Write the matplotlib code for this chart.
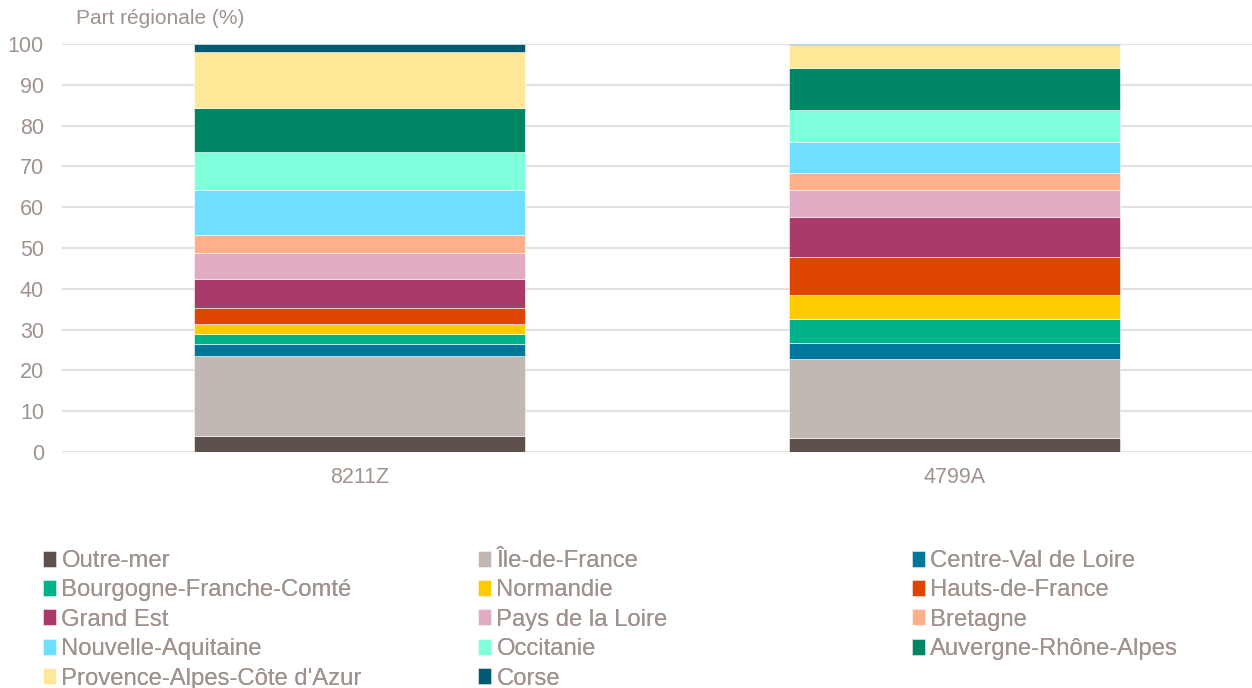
import matplotlib.pyplot as plt

plt.rcParams['font.family'] = ['Liberation Sans', 'DejaVu Sans']

codes = ["8211Z", "4799A"]
regions = [
    "Outre-mer", "Île-de-France", "Centre-Val de Loire",
    "Bourgogne-Franche-Comté", "Normandie", "Hauts-de-France",
    "Grand Est", "Pays de la Loire", "Bretagne",
    "Nouvelle-Aquitaine", "Occitanie", "Auvergne-Rhône-Alpes",
    "Provence-Alpes-Côte d'Azur", "Corse",
]
share_8211Z = [3.8, 19.8, 2.9, 2.4, 2.5, 3.9, 7.0, 6.5, 4.3, 11.0, 9.5, 10.8, 13.7, 1.9]
share_4799A = [3.5, 19.2, 3.9, 6.1, 5.9, 9.1, 9.9, 6.6, 4.1, 7.8, 7.8, 10.2, 5.6, 0.3]
colors = [
    "#5E504D", "#C2B8B3", "#00769B", "#00B289", "#FFCB00", "#DD4500",
    "#A93A69", "#E1ABC3", "#FFB08B", "#6FDFFF", "#7FFFDC", "#008565",
    "#FFE999", "#005A73",
]

txt = "#A0938E"
grid = "#E4E0E0"

fig = plt.figure(figsize=(12.52, 6.88), dpi=100)
ax = fig.add_axes([62 / 1252, 1 - 452 / 688, 1190 / 1252, 408 / 688])

handles = []
bottoms = [0.0, 0.0]
for i, reg in enumerate(regions):
    vals = [share_8211Z[i], share_4799A[i]]
    h = ax.bar([0, 1], vals, width=0.556, bottom=bottoms, color=colors[i],
               edgecolor="white", linewidth=0.4, label=reg, zorder=3)
    handles.append(h)
    bottoms = [bottoms[0] + vals[0], bottoms[1] + vals[1]]

ax.set_xlim(-0.5, 1.5)
ax.set_ylim(0, 100)
ax.set_yticks(range(0, 101, 10))
ax.set_xticks([0, 1])
ax.set_xticklabels(codes)
ax.yaxis.grid(True, color=grid, linewidth=1.5, zorder=0)
ax.set_axisbelow(True)
for s in ax.spines.values():
    s.set_visible(False)
ax.tick_params(axis="y", length=0, pad=13, labelsize=15.5, labelcolor=txt)
ax.tick_params(axis="x", length=0, pad=11, labelsize=15.5, labelcolor=txt)

fig.text(76 / 1252, 1 - 19 / 688, "Part régionale (%)", color=txt,
         fontsize=15, va="center", ha="left")

col_x = [43, 478, 912]
for c in range(3):
    idx = list(range(c, len(regions), 3))
    leg = fig.legend([handles[k] for k in idx], [regions[k] for k in idx],
                     loc="upper left", bbox_to_anchor=(col_x[c] / 1252, 1 - 550 / 688),
                     frameon=False, fontsize=17.2, handlelength=0.55, handleheight=0.65,
                     handletextpad=0.22, labelspacing=0.31, borderpad=0,
                     borderaxespad=0)
    for t in leg.get_texts():
        t.set_color(txt)
    fig.add_artist(leg)

fig.savefig("out.png", dpi=100)
